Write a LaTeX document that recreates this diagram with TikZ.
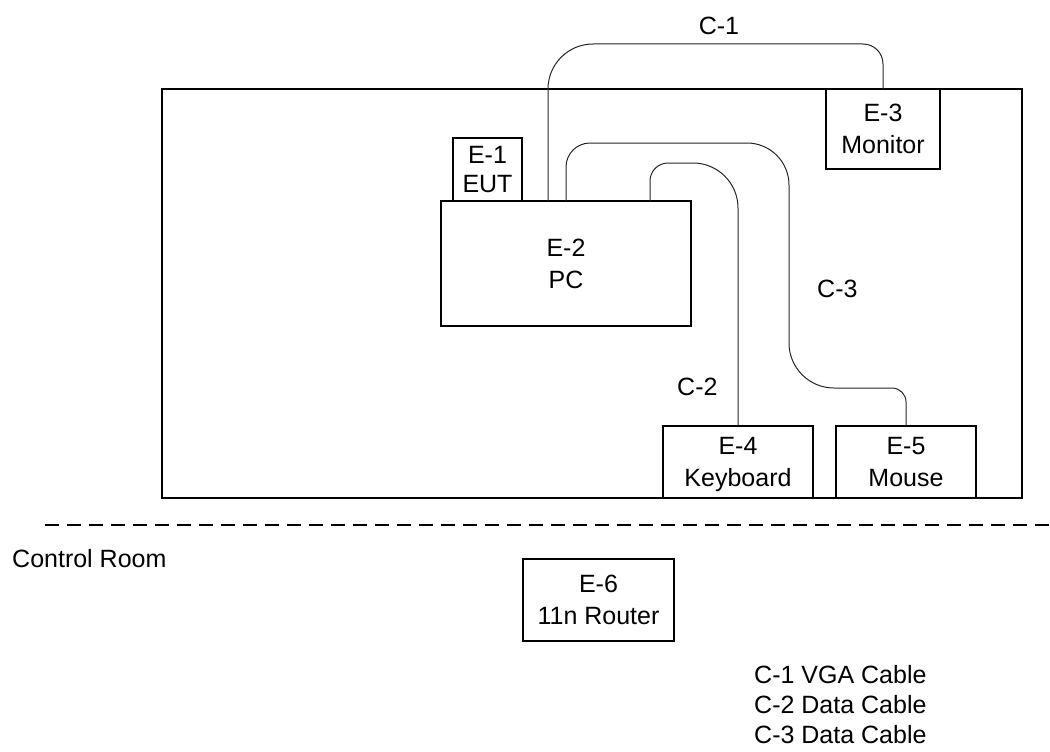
\documentclass[tikz,border=0pt]{standalone}
\usepackage{fontspec}
\setmainfont{Liberation Sans}
\usetikzlibrary{calc}
\begin{document}
\begin{tikzpicture}[x=1pt,y=1pt,
  box/.style={draw=black, line width=1.6pt, inner sep=0pt, outer sep=0pt, align=center,
              font=\fontsize{25}{32}\selectfont},
  cable/.style={draw=black!85, line width=1pt},
  lbl/.style={inner sep=0pt, font=\fontsize{25}{30}\selectfont}]
\useasboundingbox (0,0) rectangle (1050,-752);

% test room
\node[box, minimum width=860pt, minimum height=409pt] (room) at (592,-293.5) {};

% equipment
\node[box, minimum width=69pt,  minimum height=63pt, font=\fontsize{25}{29}\selectfont] (e1) at (487.5,-169.5) {E-1\\EUT};
\node[box, minimum width=250pt, minimum height=125pt] (e2) at (566,-263.5) {E-2\\PC};
\node[box, minimum width=114pt, minimum height=80pt]  (e3) at (883,-129) {E-3\\Monitor};
\node[box, minimum width=150pt, minimum height=72pt]  (e4) at (738,-462) {E-4\\\raisebox{0pt}[\height][0pt]{Keyboard}};
\node[box, minimum width=140pt, minimum height=72pt]  (e5) at (906,-462) {E-5\\Mouse};
\node[box, minimum width=151pt, minimum height=82pt]  (e6) at (598.5,-600) {E-6\\11n Router};

% cables
\draw[cable] ($(e2.north west)+(107,0)$) -- ++(0,112)
  arc[start angle=180,end angle=90,radius=45] -- (863,-44)
  arc[start angle=90,end angle=0,radius=20] -- (e3.north);
\draw[cable] (e2.north) -- (566,-167)
  arc[start angle=180,end angle=90,radius=24] -- (747,-143)
  arc[start angle=90,end angle=0,radius=42] -- (789,-343)
  arc[start angle=180,end angle=270,radius=45] -- (892,-388)
  arc[start angle=90,end angle=0,radius=14] -- (e5.north);
\draw[cable] ($(e2.north west)+(209,0)$) -- (650,-181)
  arc[start angle=180,end angle=90,radius=18] -- (693,-163)
  arc[start angle=90,end angle=0,radius=45] -- (e4.north);

% cable labels
\node[lbl, anchor=base] (lc1) at (719,-35) {C-1};
\node[lbl, anchor=base west] (lc3) at (817,-297) {C-3};
\node[lbl, anchor=base west] (lc2) at (677,-395) {C-2};

% boundary
\draw[line width=2pt, dash pattern=on 14pt off 8pt] (45,-525) -- (1050,-525);
\node[lbl, anchor=base west] (ctrl) at (12,-567) {Control Room};

% legend
\node[lbl, anchor=base west] (leg1) at (754,-683) {C-1 VGA Cable};
\node[lbl, anchor=base west] (leg2) at (754,-713) {C-2 Data Cable};
\node[lbl, anchor=base west] (leg3) at (754,-743) {C-3 Data Cable};
\end{tikzpicture}
\end{document}
